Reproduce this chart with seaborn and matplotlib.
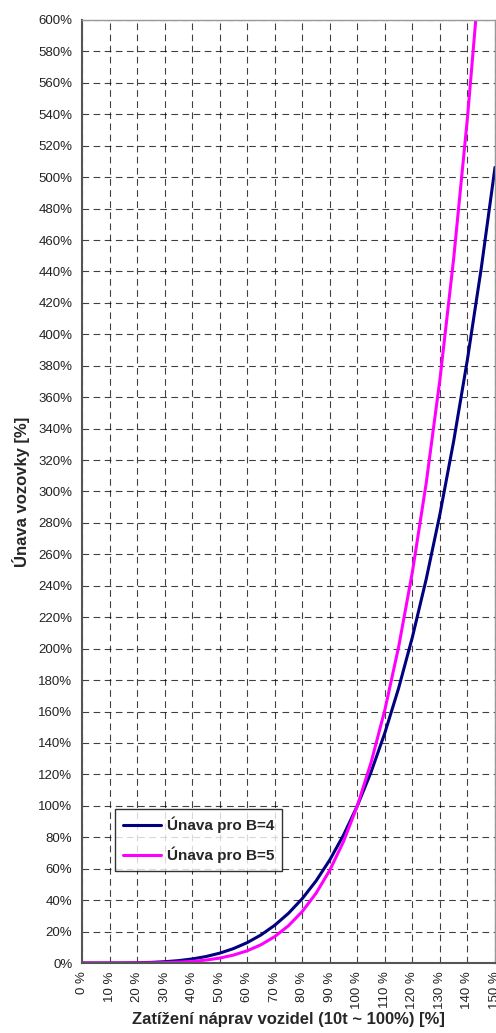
import numpy as np
import pandas as pd
import matplotlib
matplotlib.use("Agg")
import matplotlib.pyplot as plt
import seaborn as sns
from matplotlib.ticker import FuncFormatter

# data (axle load % vs. pavement fatigue %)
load_pct = [0, 5, 10, 15, 20, 25, 30, 35, 40, 45, 50, 55, 60, 65, 70, 75,
            80, 85, 90, 95, 100, 105, 110, 115, 120, 125, 130, 135, 140, 145, 150]
fatigue_b4 = [0, 0.0, 0.01, 0.05, 0.16, 0.39, 0.81, 1.5, 2.56, 4.1, 6.25, 9.15,
              12.96, 17.85, 24.01, 31.64, 40.96, 52.2, 65.61, 81.45, 100, 121.55,
              146.41, 174.9, 207.36, 244.14, 285.61, 332.15, 384.16, 441.96, 506.25]
fatigue_b5 = [0, 0.0, 0.0, 0.01, 0.03, 0.1, 0.24, 0.53, 1.02, 1.85, 3.13, 5.03,
              7.78, 11.6, 16.81, 23.73, 32.77, 44.37, 59.05, 77.38, 100, 127.63,
              161.05, 201.14, 248.83, 305.18, 371.29, 448.4, 537.82, 641.1, 759.4]
series_names = ["Únava pro B=4", "Únava pro B=5"]
series_colors = ["#000080", "#FF00FF"]

df = pd.concat([
    pd.DataFrame({"x": load_pct, "y": fatigue_b4, "serie": series_names[0]}),
    pd.DataFrame({"x": load_pct, "y": fatigue_b5, "serie": series_names[1]}),
])

sns.set_style("white")
plt.rcParams["font.family"] = ["Liberation Sans", "DejaVu Sans"]

fig = plt.figure(figsize=(4.96, 10.33), dpi=100)
ax = fig.add_axes([82 / 496, 1 - 963 / 1033, 413 / 496, 943 / 1033])

sns.lineplot(data=df, x="x", y="y", hue="serie", palette=series_colors,
             linewidth=2.2, ax=ax, legend=True)

ax.set_xlim(0, 150)
ax.set_ylim(0, 600)
ax.set_xticks(np.arange(0, 151, 10))
ax.set_yticks(np.arange(0, 601, 20))
ax.xaxis.set_major_formatter(FuncFormatter(lambda v, p: f"{v:.0f} %"))
ax.yaxis.set_major_formatter(FuncFormatter(lambda v, p: f"{v:.0f}%"))
ax.tick_params(axis="x", labelrotation=90, labelsize=9.5, length=0, pad=6, colors="#222222")
ax.tick_params(axis="y", labelsize=9.5, length=4, width=1, direction="out", pad=3,
               colors="#222222")
ax.set_axisbelow(True)
ax.grid(True, color="black", linestyle=(0, (6, 4)), linewidth=0.8, alpha=0.75)

for side in ["top", "right"]:
    ax.spines[side].set_color("#999999")
    ax.spines[side].set_linewidth(1)
for side in ["left", "bottom"]:
    ax.spines[side].set_color("#555555")
    ax.spines[side].set_linewidth(1.5)

ax.set_xlabel("Zatížení náprav vozidel (10t ~ 100%) [%]", fontsize=12,
              fontweight="bold", labelpad=2)
ax.set_ylabel("Únava vozovky [%]", fontsize=12, fontweight="bold", labelpad=6)

leg = ax.legend(loc="lower left", bbox_to_anchor=(33 / 413, 92 / 943),
                frameon=True, fancybox=False, edgecolor="black",
                prop={"weight": "bold", "size": 11}, handlelength=2.5,
                handletextpad=0.4, borderpad=0.5, labelspacing=0.9,
                borderaxespad=0)
leg.get_frame().set_linewidth(1)
for line in leg.get_lines():
    line.set_linewidth(2.2)

fig.savefig("out.png", dpi=100)
